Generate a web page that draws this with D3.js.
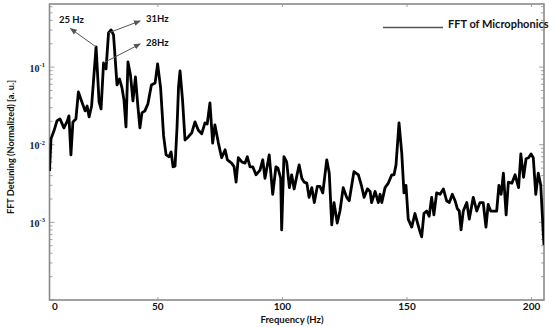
<!DOCTYPE html>
<html><head><meta charset="utf-8">
<script src="https://cdn.jsdelivr.net/npm/d3@7"></script>
<style>body{margin:0;background:#fff}</style>
</head><body><svg id="c" width="550" height="327"></svg>
<script>
// ---- data ----
const freqHz = [6.5,7.1,8.3,9.5,10.7,12.3,13.5,14.3,15.1,15.9,17.1,18.1,19.5,20.8,21.6,22.4,23.4,25.2,26.4,27.2,
28.2,29.2,30.2,31.2,32.2,33.6,34.6,35.6,36.4,37.2,38.0,39.0,40.0,41.0,42.0,42.8,43.6,44.8,46.0,47.4,
48.9,49.9,51.1,52.3,53.3,54.5,55.3,56.1,56.9,57.7,58.3,58.9,59.9,60.9,62.2,63.6,64.9,66.2,67.6,68.9,
69.8,70.9,72.0,72.9,74.3,75.6,77.0,77.9,79.6,80.6,81.4,82.3,83.7,85.0,85.9,87.0,88.1,89.4,91.0,92.1,
93.0,94.7,96.1,97.4,98.2,99.3,99.7,100.6,101.7,102.8,103.7,104.7,106.7,107.8,108.7,109.8,110.7,111.8,112.8,114.0,
115.1,116.2,117.8,118.8,119.8,120.7,122.0,123.1,124.4,125.8,126.8,128.7,130.5,131.8,132.8,134.1,135.2,135.8,137.2,138.5,
139.2,139.9,141.2,142.5,143.9,144.8,145.6,146.8,147.9,148.8,149.6,150.5,151.9,153.2,155.0,155.9,156.8,157.9,158.9,159.9,
160.8,161.9,163.3,164.6,165.9,167.0,168.2,169.3,170.2,171.0,171.7,172.6,174.0,175.0,176.6,178.0,179.3,180.6,181.7,182.6,
183.6,184.9,186.0,186.9,187.8,188.7,189.8,190.7,192.1,193.4,194.8,195.7,196.8,197.8,198.8,199.8,200.7,201.7,202.7,203.7,
204.7,205.0];
const detuning = [0.0046,0.0119,0.0151,0.0203,0.0215,0.0165,0.0197,0.0235,0.0074,0.0197,0.0215,0.0479,0.0356,0.0273,0.0316,0.0228,0.0316,0.182,0.0356,0.0289,
0.1133,0.0948,0.276,0.3016,0.260,0.059,0.0704,0.054,0.0378,0.017,0.1167,0.0793,0.0367,0.0748,0.0307,0.0165,0.0257,0.0273,0.0336,0.059,
0.0626,0.11,0.054,0.013,0.0074,0.007,0.0081,0.0052,0.0053,0.017,0.0556,0.0893,0.0378,0.0115,0.0126,0.0142,0.0197,0.0155,0.0138,0.0191,
0.0185,0.0346,0.0105,0.018,0.0105,0.0068,0.0086,0.0064,0.0058,0.0052,0.0033,0.0068,0.006,0.0058,0.007,0.0052,0.0052,0.0041,0.0047,0.0064,
0.0037,0.0074,0.0023,0.0052,0.005,0.0037,0.0008,0.007,0.006,0.0028,0.0041,0.0027,0.0055,0.0037,0.0033,0.0032,0.0021,0.0028,0.0018,0.0029,
0.0029,0.0024,0.0064,0.0043,0.00093,0.0018,0.00098,0.0014,0.0028,0.0021,0.0019,0.0045,0.0041,0.0029,0.0021,0.0027,0.0025,0.0018,0.0025,0.0018,
0.0023,0.0018,0.0028,0.0032,0.0041,0.0041,0.0055,0.0191,0.0078,0.0024,0.003,0.0011,0.00087,0.0013,0.0008,0.00065,0.0013,0.0014,0.0012,0.0021,
0.00125,0.0024,0.0023,0.0027,0.0019,0.0018,0.0023,0.0019,0.0015,0.0014,0.0008,0.0014,0.0018,0.0011,0.0021,0.0014,0.0018,0.0018,0.00087,0.0017,
0.0014,0.0014,0.0014,0.003,0.0023,0.0043,0.00125,0.0033,0.0032,0.0041,0.0028,0.0076,0.0038,0.0066,0.0068,0.0076,0.0068,0.0023,0.0043,0.003,
0.00073,0.00051];
const xTickValues = [8.7, 50, 100, 150, 200];
const xTickLabels = ["0", "50", "100", "150", "200"];
const yTickValues = [1e-1, 1e-2, 1e-3];
const yTickExponents = ["-1", "-2", "-3"];
const seriesName = "FFT of Microphonics";
const xTitle = "Frequency (Hz)";
const yTitle = "FFT Detuning (Normalized) [a. u.]";
const peakLabels = ["25 Hz", "28Hz", "31Hz"];
const peakFreqs = [25.2, 28.2, 30.2];

// ---- layout ----
const svg = d3.select("#c");
const L = 49.5, R = 544, T = 4, B = 300;
const x = d3.scaleLinear().domain([6.5, 205]).range([L, R]);
const y = d3.scaleLog().domain([1e-4, 0.65]).range([B, T]);
const SANS = "Lato, 'Open Sans', sans-serif";
const axisCol = "#8a8a8a";

const data = freqHz.map((f, i) => ({f, v: detuning[i]}));

svg.append("clipPath").attr("id", "clip").append("rect")
  .attr("x", L).attr("y", T).attr("width", R - L).attr("height", B - T);

// minor ticks list
const minor = [];
for (let e = -4; e <= -1; e++) for (let m = 1; m <= 9; m++) {
  const v = m * Math.pow(10, e);
  if (v >= 1e-4 && v <= 0.65) minor.push(v);
}
const gT = svg.append("g").attr("stroke", axisCol).attr("stroke-width", 0.8);
minor.forEach(v => {
  const len = (Math.abs(Math.log10(v) - Math.round(Math.log10(v))) < 1e-9) ? 5 : 3;
  gT.append("line").attr("x1", L).attr("x2", L + len).attr("y1", y(v)).attr("y2", y(v));
  gT.append("line").attr("x1", R).attr("x2", R - len).attr("y1", y(v)).attr("y2", y(v));
});
xTickValues.slice(1).forEach(v => {
  gT.append("line").attr("x1", x(v)).attr("x2", x(v)).attr("y1", B).attr("y2", B - 3);
  gT.append("line").attr("x1", x(v)).attr("x2", x(v)).attr("y1", T).attr("y2", T + 3);
});

// frame
svg.append("rect").attr("x", L).attr("y", T).attr("width", R - L).attr("height", B - T)
  .attr("fill", "none").attr("stroke", axisCol).attr("stroke-width", 1.6);

// series line
svg.append("path").datum(data)
  .attr("clip-path", "url(#clip)")
  .attr("fill", "none").attr("stroke", "#000").attr("stroke-width", 2.8)
  .attr("stroke-linejoin", "round")
  .attr("d", d3.line().x(d => x(d.f)).y(d => y(d.v)));

// x tick labels
xTickValues.forEach((v, i) => {
  svg.append("text").attr("x", x(v)).attr("y", 310).attr("text-anchor", "middle")
    .attr("font-family", SANS).attr("font-weight", "bold").attr("font-size", 10)
    .attr("fill", "#111").text(xTickLabels[i]);
});
// y tick labels (10^n)
yTickValues.forEach((v, i) => {
  const t = svg.append("text").attr("x", 45).attr("y", y(v) + 4.5).attr("text-anchor", "end")
    .attr("font-family", "'Liberation Serif', serif").attr("font-weight", "bold")
    .attr("font-size", 10).attr("fill", "#222");
  t.append("tspan").text("10");
  t.append("tspan").attr("dy", -4.5).attr("font-size", 6.5).text(yTickExponents[i]);
});

// axis titles
svg.append("text").attr("x", 292).attr("y", 323).attr("text-anchor", "middle")
  .attr("font-family", SANS).attr("font-weight", "bold").attr("font-size", 9.5)
  .attr("fill", "#111").text(xTitle);
svg.append("text").attr("transform", `translate(14,147) rotate(-90)`)
  .attr("text-anchor", "middle")
  .attr("font-family", SANS).attr("font-weight", "bold").attr("font-size", 9.2)
  .attr("fill", "#111").text(yTitle);

// legend
svg.append("line").attr("x1", 383).attr("x2", 443).attr("y1", 27.5).attr("y2", 27.5)
  .attr("stroke", "#555").attr("stroke-width", 1.5);
svg.append("text").attr("x", 448).attr("y", 28).attr("font-family", SANS)
  .attr("font-weight", "bold").attr("font-size", 11).attr("fill", "#111").text(seriesName);

// annotations
const defs = svg.append("defs");
defs.append("marker").attr("id", "ah").attr("viewBox", "0 0 10 10").attr("refX", 9).attr("refY", 5)
  .attr("markerWidth", 7).attr("markerHeight", 7).attr("orient", "auto")
  .append("path").attr("d", "M0,1 L10,5 L0,9 Z").attr("fill", "#555");
const arrowOff = [[-25.7, -18.4], [36.7, -19], [31.7, -12]];
const textOff = [[1, -6, "middle"], [5.7, 2.3, "start"], [5.7, 1, "start"]];
peakFreqs.forEach((f, i) => {
  const d = data.find(p => p.f === f);
  const x0 = x(d.f), y0 = y(d.v);
  const x1 = x0 + arrowOff[i][0], y1 = y0 + arrowOff[i][1];
  svg.append("line").attr("x1", x0).attr("y1", y0).attr("x2", x1).attr("y2", y1)
    .attr("stroke", "#555").attr("stroke-width", 1).attr("marker-end", "url(#ah)");
  svg.append("text").attr("x", x1 + textOff[i][0]).attr("y", y1 + textOff[i][1])
    .attr("text-anchor", textOff[i][2]).attr("font-family", SANS).attr("font-weight", "bold")
    .attr("font-size", 9.5).attr("fill", "#111").text(peakLabels[i]);
});
</script></body></html>
